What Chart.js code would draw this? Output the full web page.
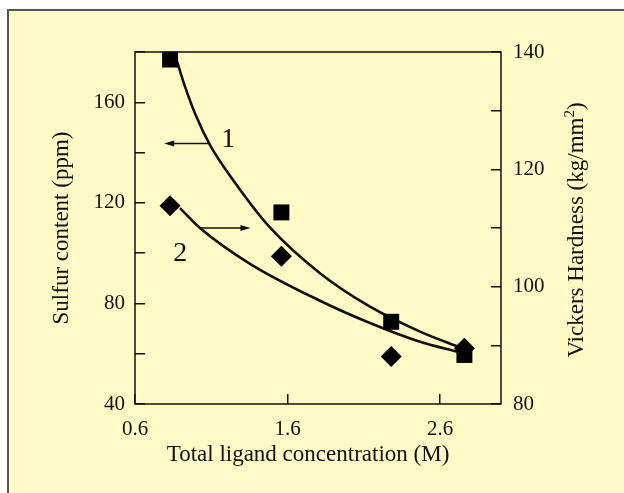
<!DOCTYPE html>
<html>
<head>
<meta charset="utf-8">
<script src="https://cdn.jsdelivr.net/npm/chart.js@4"></script>
<style>
  html, body { margin: 0; padding: 0; background: #fff; overflow: hidden; }
  #chart { display: block; }
</style>
</head>
<body>
<canvas id="chart" width="624" height="493"></canvas>
<script>
// measured points (squares = sulfur, left axis; diamonds = hardness, right axis)
const concentration = [0.83, 1.56, 2.28, 2.76];
const sulfur = [177, 116.2, 72.7, 59.5];
const hardness = [113.8, 105.2, 88.1, 89.5];

// fitted curves
const fit1X = [0.877, 0.928, 1.0, 1.092, 1.243, 1.485, 1.813, 2.141, 2.469, 2.742];
const fit1Y = [176.1, 166.2, 154.6, 143.0, 129.1, 110.2, 92.0, 78.7, 68.8, 62.2];
const fit2X = [0.895, 1.026, 1.354, 1.813, 2.141, 2.469, 2.731];
const fit2Y = [113.4, 110.0, 103.9, 97.6, 93.8, 90.6, 88.8];

// axes
const xTicks = [0.6, 1.6, 2.6];
const sulfurTicks = [40, 60, 80, 100, 120, 140, 160, 180];
const sulfurLabels = [40, 80, 120, 160];
const hardnessTicks = [80, 90, 100, 110, 120, 130, 140];
const hardnessLabels = [80, 100, 120, 140];

const xTitle = 'Total ligand concentration (M)';
const yTitle = 'Sulfur content (ppm)';
const y1Title = ['Vickers Hardness (kg/mm', '2', ')'];

// "1" / "2" markers with their arrows (x range, level, axis)
const arrows = [
  { from: 1.082, to: 0.791, level: 143.6, axis: 'y' },
  { from: 1.028, to: 1.357, level: 110.0, axis: 'y1' }
];
const markers = [
  { text: '1', x: 1.212, y: 145.2, axis: 'y' },
  { text: '2', x: 0.896, y: 105.7, axis: 'y1' }
];

const SERIF = '"Liberation Serif", "DejaVu Serif", serif';
Chart.defaults.font.family = SERIF;
Chart.defaults.color = '#111';

const toPts = (xs, ys) => xs.map((x, i) => ({ x, y: ys[i] }));
const setTicks = list => scale => { scale.ticks = list.map(v => ({ value: v })); };

const tickGrid = { display: true, drawOnChartArea: false, drawTicks: true, tickLength: -10, color: '#111', lineWidth: 1.5 };

// yellow panel with a grey top/left edge behind everything
const panel = {
  id: 'panel',
  beforeDraw(chart) {
    const { ctx, width, height } = chart;
    ctx.save();
    ctx.fillStyle = '#fff';
    ctx.fillRect(0, 0, width, height);
    ctx.fillStyle = '#fffac6';
    ctx.fillRect(8, 10, width - 8, height - 10);
    ctx.strokeStyle = '#555';
    ctx.lineWidth = 2;
    ctx.beginPath();
    ctx.moveTo(8, height);
    ctx.lineTo(8, 10);
    ctx.lineTo(width, 10);
    ctx.stroke();
    ctx.restore();
  }
};

const annotations = {
  id: 'annotations',
  afterDatasetsDraw(chart) {
    const { ctx, chartArea: a, scales } = chart;
    ctx.save();
    ctx.strokeStyle = '#111';
    ctx.lineWidth = 1.5;
    ctx.strokeRect(a.left, a.top, a.right - a.left, a.bottom - a.top);

    ctx.lineWidth = 1.3;
    ctx.fillStyle = '#111';
    arrows.forEach(ar => {
      const x0 = scales.x.getPixelForValue(ar.from);
      const x1 = scales.x.getPixelForValue(ar.to);
      const y = scales[ar.axis].getPixelForValue(ar.level);
      const dir = Math.sign(x1 - x0);
      ctx.beginPath();
      ctx.moveTo(x0, y);
      ctx.lineTo(x1 - dir * 8, y);
      ctx.stroke();
      ctx.beginPath();
      ctx.moveTo(x1, y);
      ctx.lineTo(x1 - dir * 10, y - 3);
      ctx.lineTo(x1 - dir * 10, y + 3);
      ctx.closePath();
      ctx.fill();
    });

    ctx.font = '28px ' + SERIF;
    ctx.textAlign = 'center';
    ctx.textBaseline = 'middle';
    markers.forEach(m => {
      ctx.fillText(m.text, scales.x.getPixelForValue(m.x), scales[m.axis].getPixelForValue(m.y));
    });

    // x title (sits a little left of the plot centre in the original)
    ctx.font = '23px ' + SERIF;
    ctx.fillText(xTitle, (a.left + a.right) / 2 - 10, 455);

    // right title, read bottom-to-top with a superscript 2
    const big = '23px ' + SERIF, small = '15px ' + SERIF;
    ctx.font = big;
    const w0 = ctx.measureText(y1Title[0]).width;
    const w2 = ctx.measureText(y1Title[2]).width;
    ctx.font = small;
    const w1 = ctx.measureText(y1Title[1]).width;
    const total = w0 + w1 + w2;
    ctx.translate(577, (a.top + a.bottom) / 2 + 2);
    ctx.rotate(-Math.PI / 2);
    ctx.textAlign = 'left';
    ctx.font = big;
    ctx.fillText(y1Title[0], -total / 2, 0);
    ctx.font = small;
    ctx.fillText(y1Title[1], -total / 2 + w0, -7);
    ctx.font = big;
    ctx.fillText(y1Title[2], -total / 2 + w0 + w1, 0);
    ctx.restore();
  }
};

new Chart(document.getElementById('chart'), {
  type: 'scatter',
  data: {
    datasets: [
      {
        label: 'fit 1',
        data: toPts(fit1X, fit1Y),
        yAxisID: 'y',
        showLine: true,
        borderColor: '#111',
        borderWidth: 2.6,
        pointRadius: 0,
        cubicInterpolationMode: 'monotone',
        clip: false,
        order: 2
      },
      {
        label: 'fit 2',
        data: toPts(fit2X, fit2Y),
        yAxisID: 'y1',
        showLine: true,
        borderColor: '#111',
        borderWidth: 2.6,
        pointRadius: 0,
        cubicInterpolationMode: 'monotone',
        clip: false,
        order: 2
      },
      {
        label: 'Sulfur content',
        data: toPts(concentration, sulfur),
        yAxisID: 'y',
        pointStyle: 'rect',
        pointRadius: 11.3,
        backgroundColor: '#000',
        borderWidth: 0,
        clip: false,
        order: 0
      },
      {
        label: 'Vickers Hardness',
        data: toPts(concentration, hardness),
        yAxisID: 'y1',
        pointStyle: 'rectRot',
        pointRadius: 10.5,
        backgroundColor: '#000',
        borderWidth: 0,
        clip: false,
        order: 1
      }
    ]
  },
  options: {
    responsive: false,
    animation: false,
    events: [],
    layout: { padding: { top: 52 } },
    plugins: { legend: { display: false }, tooltip: { enabled: false } },
    scales: {
      x: {
        type: 'linear',
        min: 0.6,
        max: 3.0,
        afterBuildTicks: setTicks(xTicks),
        afterFit: s => { s.height = 89; },
        grid: tickGrid,
        border: { display: false },
        ticks: { font: { size: 21 }, padding: 23, callback: v => v.toFixed(1) }
      },
      y: {
        position: 'left',
        min: 40,
        max: 180,
        afterBuildTicks: setTicks(sulfurTicks),
        afterFit: s => { s.width = 135; },
        grid: tickGrid,
        border: { display: false },
        ticks: { font: { size: 21 }, padding: 20, callback: v => sulfurLabels.includes(v) ? String(v) : '' },
        title: {
          display: true,
          text: yTitle,
          font: { size: 23 },
          padding: { top: 48, bottom: 0 }
        }
      },
      y1: {
        position: 'right',
        min: 80,
        max: 140,
        afterBuildTicks: setTicks(hardnessTicks),
        afterFit: s => { s.width = 123; },
        grid: tickGrid,
        border: { display: false },
        ticks: { font: { size: 21 }, padding: 22, callback: v => hardnessLabels.includes(v) ? String(v) : '' }
      }
    }
  },
  plugins: [panel, annotations]
});
</script>
</body>
</html>
